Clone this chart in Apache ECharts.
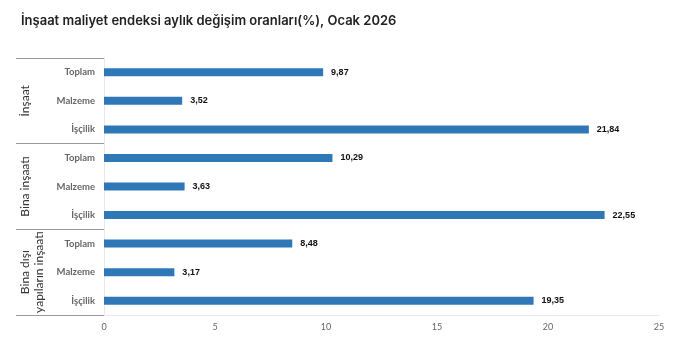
<!DOCTYPE html>
<html><head><meta charset="utf-8">
<script src="https://cdn.jsdelivr.net/npm/echarts@6/dist/echarts.min.js"></script>
<style>html,body{margin:0;padding:0;background:#fff}#c{width:680px;height:338px}</style>
</head><body><div id="c"></div>
<script>
const titleText = 'İnşaat maliyet endeksi aylık değişim oranları(%), Ocak 2026';
const groups = ['İnşaat', 'Bina inşaatı', 'Bina dışı\nyapıların inşaatı'];
const subCategories = ['Toplam', 'Malzeme', 'İşçilik'];
const categories = ['Toplam', 'Malzeme', 'İşçilik', 'Toplam', 'Malzeme', 'İşçilik', 'Toplam', 'Malzeme', 'İşçilik'];
const values = [9.87, 3.52, 21.84, 10.29, 3.63, 22.55, 8.48, 3.17, 19.35];
const xTicks = [0, 5, 10, 15, 20, 25];

const chart = echarts.init(document.getElementById('c'), null, {renderer: 'canvas'});
chart.setOption({
  animation: false,
  title: {
    text: titleText, left: 16, top: 10,
    textStyle: {fontFamily: 'Inter', fontWeight: 600, fontSize: 13, color: '#222'}
  },
  grid: {left: 104, right: 21, top: 58, bottom: 23, containLabel: false},
  xAxis: {
    type: 'value', min: xTicks[0], max: xTicks[xTicks.length - 1], interval: 5,
    axisLine: {show: true, lineStyle: {color: '#e6e9f0'}},
    axisTick: {show: false},
    splitLine: {show: false},
    axisLabel: {color: '#666', fontFamily: 'Lato', fontSize: 9, margin: 8}
  },
  yAxis: [{
    type: 'category', data: categories, inverse: true,
    axisLine: {show: true, lineStyle: {color: '#e6e9f0'}},
    axisTick: {show: false},
    axisLabel: {interval: 0, color: '#666', fontFamily: 'Lato', fontWeight: 'bold', fontSize: 9.5, margin: 9}
  }, {
    type: 'category', data: groups, inverse: true, position: 'left', offset: 88,
    axisLine: {show: false},
    axisTick: {show: true, interval: 0, inside: true, length: 88, lineStyle: {color: '#999'}},
    axisLabel: {interval: 0, inside: true, rotate: 90, color: '#333', fontFamily: 'Lato', fontSize: 12, margin: 2, lineHeight: 14}
  }],
  series: [{
    type: 'bar', data: values, yAxisIndex: 0, barWidth: 8,
    itemStyle: {color: '#2f78b7'},
    label: {
      show: true, position: 'right', distance: 8,
      fontFamily: 'Liberation Sans', fontWeight: 'bold', fontSize: 9, color: '#111',
      formatter: p => p.value.toFixed(2).replace('.', ',')
    }
  }]
});
</script></body></html>
